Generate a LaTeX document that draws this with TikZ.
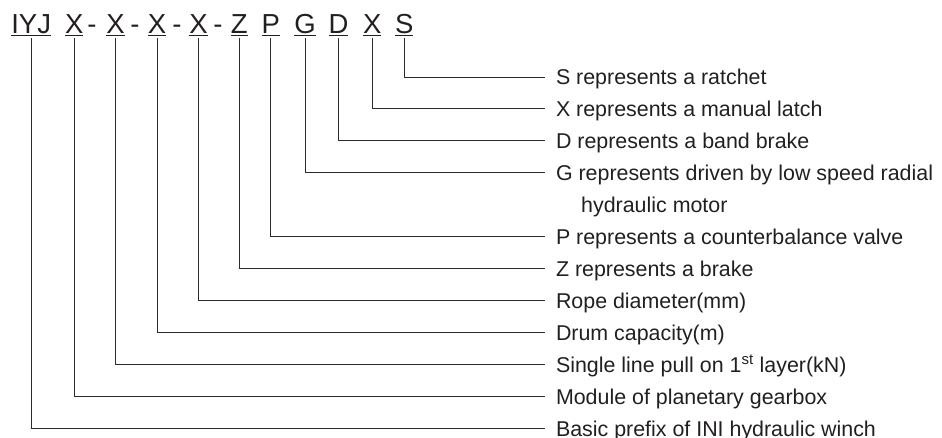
\documentclass[tikz,border=0pt]{standalone}
\usepackage{fontspec}
\setmainfont{Liberation Sans}
\begin{document}
\begin{tikzpicture}[x=1pt,y=-1pt,
  ink/.style={color=inkc},
  code/.style={inner sep=0pt, outer xsep=0pt, outer ysep=4.7pt, anchor=base, text=inkc, font=\fontsize{27.5}{33}\selectfont},
  dashmark/.style={inner sep=0pt, anchor=base, text=inkc, font=\fontsize{27.5}{33}\selectfont},
  lbl/.style={inner sep=0pt, outer xsep=11pt, outer ysep=0pt, text height=15.3pt, text depth=0pt, anchor=west, text=inkc, font=\fontsize{21.4}{25}\selectfont},
  lblcont/.style={inner sep=0pt, text height=15.3pt, text depth=0pt, anchor=west, text=inkc, font=\fontsize{21.4}{25}\selectfont},
  conn/.style={draw=linec, line width=0.9pt},
  uline/.style={draw=inkc, line width=1.3pt}]
\definecolor{inkc}{HTML}{231F20}
\definecolor{linec}{HTML}{2B2B2B}
\useasboundingbox (0,0) rectangle (942,437);
% code letters
\node[code] (iyj) at (31.2,33.3) {IYJ};
\node[code] (x1) at (74.2,33.3) {X};
\node[code] (x2) at (115.5,33.3) {X};
\node[code] (x3) at (157,33.3) {X};
\node[code] (x4) at (198.5,33.3) {X};
\node[code] (z) at (239.3,33.3) {Z};
\node[code] (p) at (270.8,33.3) {P};
\node[code] (g) at (305,33.3) {G};
\node[code] (d) at (338.5,33.3) {D};
\node[code] (x5) at (372.3,33.3) {X};
\node[code] (s) at (404.3,33.3) {S};
\node[dashmark] (h1) at (92,33.3) {-};
\node[dashmark] (h2) at (135,33.3) {-};
\node[dashmark] (h3) at (177,33.3) {-};
\node[dashmark] (h4) at (218,33.3) {-};
% underlines
\foreach \n in {iyj,x1,x2,x3,x4,z,p,g,d,x5,s}
  \draw[uline] ([yshift=-2.3pt]\n.base west) -- ([yshift=-2.3pt]\n.base east);
% labels
\node[lbl] (ls) at (545,77) {S represents a ratchet};
\node[lbl] (lx5) at (545,108.9) {X represents a manual latch};
\node[lbl] (ld) at (545,140.9) {D represents a band brake};
\node[lbl] (lg) at (545,172.8) {G represents driven by low speed radial};
\node[lblcont] (lg2) at (581,204.8) {hydraulic motor};
\node[lbl] (lp) at (545,236.7) {P represents a counterbalance valve};
\node[lbl] (lz) at (545,268.7) {Z represents a brake};
\node[lbl] (lx4) at (545,300.7) {Rope diameter(mm)};
\node[lbl] (lx3) at (545,332.6) {Drum capacity(m)};
\node[lbl] (lx2) at (545,364.6) {Single line pull on 1\textsuperscript{st} layer(kN)};
\node[lbl] (lx1) at (545,396.5) {Module of planetary gearbox};
\node[lbl] (liyj) at (545,428.5) {Basic prefix of INI hydraulic winch};
% connectors
\draw[conn] (s.south) |- (ls.west);
\draw[conn] (x5.south) |- (lx5.west);
\draw[conn] (d.south) |- (ld.west);
\draw[conn] (g.south) |- (lg.west);
\draw[conn] (p.south) |- (lp.west);
\draw[conn] (z.south) |- (lz.west);
\draw[conn] (x4.south) |- (lx4.west);
\draw[conn] (x3.south) |- (lx3.west);
\draw[conn] (x2.south) |- (lx2.west);
\draw[conn] (x1.south) |- (lx1.west);
\draw[conn] (iyj.south) |- (liyj.west);
\end{tikzpicture}
\end{document}
